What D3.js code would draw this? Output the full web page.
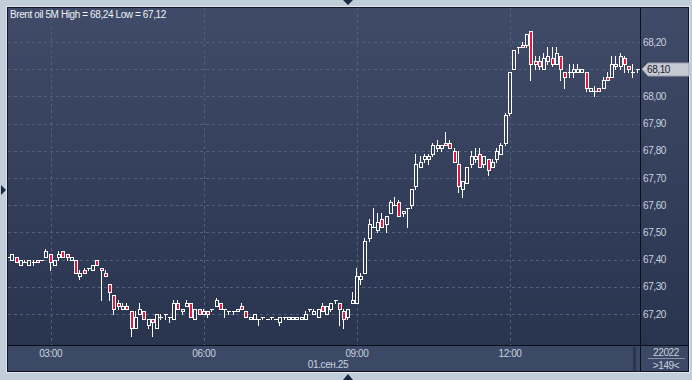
<!DOCTYPE html>
<meta charset="utf-8">
<title>Brent oil 5M</title>
<script src="https://d3js.org/d3.v7.min.js"></script>
<style>
body { margin: 0; background: #c2cdda; }
svg { display: block; }
text { font-family: "Liberation Sans", Arial, sans-serif; font-size: 10px; letter-spacing: -0.4px; }
</style>
<div id="chart"></div>
<script>
// 5 minute candles, first one at 02:10, 01.09.2025
const opens = [
67.41,67.40,67.41,67.38,67.39,67.38,67.39,67.40,67.40,67.41,67.42,67.38,67.41,67.43,67.42,67.40,67.40,67.34,67.36,67.37,
67.36,67.40,67.37,67.35,67.31,67.27,67.24,67.22,67.23,67.21,67.15,67.20,67.21,67.16,67.18,67.15,67.19,67.20,67.19,67.18,
67.24,67.21,67.23,67.24,67.18,67.22,67.20,67.21,67.22,67.23,67.24,67.22,67.21,67.21,67.21,67.23,67.21,67.18,67.18,67.18,
67.19,67.18,67.19,67.18,67.17,67.19,67.18,67.18,67.18,67.18,67.18,67.22,67.20,67.19,67.23,67.20,67.22,67.25,67.24,67.21,
67.19,67.24,67.24,67.33,67.35,67.48,67.52,67.51,67.55,67.53,67.57,67.60,67.61,67.57,67.59,67.60,67.67,67.74,67.77,67.77,
67.79,67.81,67.81,67.83,67.83,67.80,67.75,67.66,67.68,67.75,67.77,67.79,67.75,67.77,67.74,67.77,67.79,67.83,67.94,68.10,
68.18,68.19,68.19,68.24,68.13,68.13,68.10,68.13,68.14,68.12,68.15,68.09,68.09,68.09,68.09,68.09,68.09,68.02,68.02,68.03,
68.03,68.07,68.07,68.11,68.11,68.14,68.11,68.09,68.10];
const highs = [
67.41,67.42,67.41,67.40,67.40,67.40,67.40,67.40,67.40,67.44,67.42,67.40,67.43,67.43,67.42,67.41,67.40,67.36,67.37,67.37,
67.38,67.40,67.37,67.36,67.31,67.27,67.25,67.24,67.24,67.21,67.21,67.24,67.21,67.18,67.18,67.20,67.20,67.20,67.19,67.25,
67.25,67.22,67.25,67.24,67.22,67.22,67.22,67.21,67.22,67.26,67.24,67.22,67.21,67.21,67.22,67.24,67.21,67.19,67.20,67.18,
67.19,67.18,67.19,67.18,67.19,67.19,67.19,67.19,67.19,67.19,67.21,67.22,67.22,67.22,67.24,67.23,67.24,67.25,67.24,67.22,
67.22,67.28,67.37,67.35,67.48,67.55,67.59,67.57,67.57,67.56,67.62,67.63,67.62,67.58,67.59,67.66,67.79,67.78,67.79,67.79,
67.83,67.84,67.82,67.87,67.84,67.81,67.80,67.69,67.74,67.80,67.81,67.81,67.78,67.77,67.77,67.81,67.83,67.94,68.09,68.17,
68.18,68.20,68.23,68.24,68.15,68.15,68.16,68.18,68.18,68.18,68.15,68.09,68.12,68.12,68.12,68.10,68.09,68.03,68.04,68.03,
68.07,68.09,68.15,68.15,68.16,68.15,68.11,68.12,68.10];
const lows = [
67.41,67.40,67.39,67.38,67.39,67.38,67.38,67.39,67.40,67.41,67.36,67.38,67.40,67.41,67.40,67.40,67.35,67.33,67.35,67.36,
67.36,67.38,67.25,67.34,67.25,67.20,67.22,67.22,67.22,67.12,67.15,67.20,67.18,67.15,67.12,67.15,67.18,67.18,67.17,67.18,
67.22,67.20,67.23,67.19,67.18,67.20,67.20,67.19,67.21,67.23,67.22,67.19,67.20,67.20,67.21,67.22,67.19,67.18,67.18,67.16,
67.18,67.18,67.18,67.18,67.16,67.18,67.18,67.18,67.18,67.18,67.18,67.21,67.20,67.19,67.21,67.20,67.21,67.24,67.16,67.15,
67.18,67.24,67.24,67.31,67.35,67.47,67.52,67.50,67.52,67.50,67.57,67.60,67.56,67.56,67.52,67.59,67.66,67.74,67.76,67.75,
67.78,67.80,67.80,67.82,67.81,67.76,67.65,67.63,67.68,67.74,67.76,67.74,67.74,67.71,67.74,67.76,67.79,67.82,67.93,68.10,
68.16,68.18,68.18,68.06,68.10,68.10,68.10,68.12,68.11,68.12,68.06,68.03,68.07,68.07,68.09,68.09,68.02,68.02,68.00,68.02,
68.03,68.06,68.07,68.10,68.10,68.09,68.09,68.07,68.09];
const closes = [
67.41,67.42,67.39,67.40,67.39,67.40,67.39,67.39,67.40,67.43,67.39,67.40,67.42,67.41,67.41,67.41,67.35,67.35,67.35,67.37,
67.38,67.38,67.36,67.34,67.28,67.22,67.23,67.23,67.22,67.15,67.19,67.22,67.18,67.18,67.17,67.20,67.19,67.20,67.19,67.24,
67.22,67.22,67.24,67.19,67.22,67.20,67.21,67.20,67.22,67.25,67.22,67.22,67.21,67.21,67.22,67.22,67.19,67.19,67.20,67.18,
67.19,67.18,67.19,67.18,67.19,67.19,67.19,67.19,67.19,67.19,67.20,67.22,67.21,67.22,67.21,67.23,67.24,67.25,67.22,67.18,
67.22,67.25,67.34,67.34,67.47,67.53,67.52,67.54,67.52,67.56,67.61,67.60,67.56,67.58,67.59,67.66,67.75,67.76,67.78,67.78,
67.82,67.82,67.82,67.82,67.81,67.76,67.67,67.69,67.74,67.78,67.78,67.74,67.78,67.73,67.76,67.80,67.82,67.93,68.09,68.17,
68.18,68.18,68.23,68.12,68.12,68.11,68.14,68.15,68.12,68.16,68.10,68.07,68.09,68.10,68.10,68.10,68.03,68.03,68.02,68.02,
68.06,68.06,68.12,68.12,68.15,68.12,68.10,68.09,68.10];

const priceTicks = [67.2, 67.3, 67.4, 67.5, 67.6, 67.7, 67.8, 67.9, 68.0, 68.1, 68.2];
const timeTicks = ["03:00", "06:00", "09:00", "12:00"];
const dateLabel = "01.сен.25";
const title = "Brent oil 5M High = 68,24 Low = 67,12";
const barCount = "22022", visibleCount = ">149<";

const W = 692, H = 380;
const pL = 7, pT = 7, plotRight = 640, axisRight = 689, plotBottom = 345, axisBottom = 372;
const day = (h, m) => new Date(2025, 8, 1, h, m);
const times = opens.map((d, i) => new Date(day(2, 10).getTime() + i * 5 * 60000));

const x = d3.scaleTime().domain([day(3, 0), day(12, 0)]).range([50.7, 510]);
const y = d3.scaleLinear().domain([67.2, 68.2]).range([314, 42]);
const fmt = v => d3.format(".2f")(v).replace(".", ",");
const tickX = d => x(day(+d.slice(0, 2), 0));

const svg = d3.select("#chart").append("svg")
    .attr("width", W).attr("height", H)
    .attr("shape-rendering", "crispEdges");

const defs = svg.append("defs");
const grad = defs.append("linearGradient").attr("id", "bg")
    .attr("gradientUnits", "userSpaceOnUse")
    .attr("x1", 0).attr("y1", pT).attr("x2", 0).attr("y2", plotBottom);
grad.append("stop").attr("offset", 0).attr("stop-color", "#3f4b68");
grad.append("stop").attr("offset", 1).attr("stop-color", "#29344f");
defs.append("clipPath").attr("id", "plotclip").append("rect")
    .attr("x", pL + 1).attr("y", pT + 1)
    .attr("width", plotRight - pL - 1).attr("height", plotBottom - pT - 1);

// panels
svg.append("rect").attr("x", pL).attr("y", pT)
    .attr("width", axisRight - pL).attr("height", plotBottom - pT)
    .attr("fill", "url(#bg)");
svg.append("rect").attr("x", pL).attr("y", plotBottom)
    .attr("width", axisRight - pL).attr("height", axisBottom - plotBottom)
    .attr("fill", "#3c4966");
svg.append("rect").attr("x", 633).attr("y", plotBottom + 2)
    .attr("width", 3).attr("height", axisBottom - plotBottom - 3)
    .attr("fill", "#2b354d");

// grid
const grid = svg.append("g").attr("stroke", "#52607b").attr("stroke-dasharray", "3,3");
grid.selectAll(".h").data(priceTicks).join("line").attr("class", "h")
    .attr("x1", pL + 1).attr("x2", plotRight)
    .attr("y1", d => Math.round(y(d)) + 0.5).attr("y2", d => Math.round(y(d)) + 0.5);
grid.selectAll(".v").data(timeTicks).join("line").attr("class", "v")
    .attr("x1", d => Math.round(tickX(d)) + 0.5)
    .attr("x2", d => Math.round(tickX(d)) + 0.5)
    .attr("y1", pT + 1).attr("y2", plotBottom);

// candles
const candles = svg.append("g").attr("clip-path", "url(#plotclip)");
opens.forEach((o, i) => {
  const c = closes[i];
  const cx = Math.round(x(times[i]));
  const yt = Math.round(y(Math.max(o, c))), yb = Math.round(y(Math.min(o, c)));
  const yh = Math.round(y(highs[i])), yl = Math.round(y(lows[i]));
  const g = candles.append("g").attr("stroke", "#ffffff");
  if (yh < yt) g.append("line").attr("x1", cx - 0.5).attr("x2", cx - 0.5).attr("y1", yh).attr("y2", yt);
  if (yl > yb) g.append("line").attr("x1", cx - 0.5).attr("x2", cx - 0.5).attr("y1", yb + 1).attr("y2", yl + 1);
  if (yt === yb) {
    g.append("line").attr("x1", cx - 2).attr("x2", cx + 2).attr("y1", yt + 0.5).attr("y2", yt + 0.5);
  } else {
    g.append("rect").attr("x", cx - 1.5).attr("y", yt + 0.5)
      .attr("width", 3).attr("height", yb - yt)
      .attr("fill", c < o ? "#e2173d" : "url(#bg)");
  }
});

// separators and frame
svg.append("rect").attr("x", pL - 0.5).attr("y", pT - 0.5)
    .attr("width", axisRight - pL + 1).attr("height", axisBottom - pT + 1)
    .attr("fill", "none").attr("stroke", "#dfe6ee");
svg.append("rect").attr("x", pL + 0.5).attr("y", pT + 0.5)
    .attr("width", axisRight - pL - 1).attr("height", axisBottom - pT - 1)
    .attr("fill", "none").attr("stroke", "#111624");
svg.append("line").attr("x1", plotRight + 0.5).attr("x2", plotRight + 0.5)
    .attr("y1", pT).attr("y2", axisBottom).attr("stroke", "#0b0f1a");
svg.append("line").attr("x1", pL).attr("x2", axisRight)
    .attr("y1", plotBottom + 0.5).attr("y2", plotBottom + 0.5).attr("stroke", "#0b0f1a");

// price axis (the label under the last-price tag is hidden by it)
const last = closes[closes.length - 1], ly = Math.round(y(last));
svg.append("g").selectAll("text")
    .data(priceTicks.filter(d => Math.abs(y(d) - ly) > 10))
    .join("text")
    .attr("x", 643).attr("y", d => y(d) + 3.5)
    .attr("fill", "#c9d1dd")
    .text(fmt);

// last price tag
svg.append("path")
    .attr("d", `M642,${ly} L648,${ly - 6} L689,${ly - 6} L689,${ly + 7} L648,${ly + 7} Z`)
    .attr("fill", "#c5c9d1").attr("stroke", "#9aa1ad").attr("shape-rendering", "auto");
svg.append("text").attr("x", 647).attr("y", ly + 4)
    .attr("fill", "#1b2130").text(fmt(last));

// time axis
svg.append("g").selectAll("text").data(timeTicks).join("text")
    .attr("x", tickX)
    .attr("y", 357).attr("text-anchor", "middle")
    .attr("fill", "#c9d1dd").text(d => d);
svg.append("text").attr("x", 328).attr("y", 368).attr("text-anchor", "middle")
    .attr("fill", "#c9d1dd").text(dateLabel);
svg.append("text").attr("x", 666).attr("y", 356).attr("text-anchor", "middle")
    .attr("fill", "#c9d1dd").text(barCount);
svg.append("line").attr("x1", 648).attr("x2", 685).attr("y1", 358.5).attr("y2", 358.5)
    .attr("stroke", "#8490a6");
svg.append("text").attr("x", 666).attr("y", 369).attr("text-anchor", "middle")
    .attr("fill", "#c9d1dd").text(visibleCount);

// title
svg.append("text").attr("x", 10).attr("y", 18)
    .attr("fill", "#eef1f5").text(title);

// scroll markers
svg.append("g").attr("fill", "#1d2940").attr("shape-rendering", "auto")
  .selectAll("path")
  .data(["M343,0 L353,0 L348,5 Z", "M343,380 L353,380 L348,374 Z", "M1,185 L1,195 L6,190 Z"])
  .join("path").attr("d", d => d);
</script>
